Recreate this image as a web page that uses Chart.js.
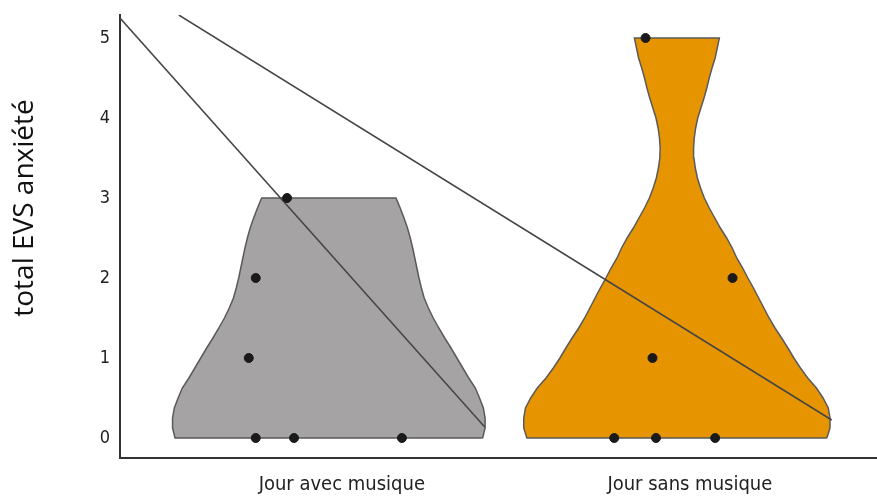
<!DOCTYPE html>
<html>
<head>
<meta charset="utf-8">
<script src="https://cdn.jsdelivr.net/npm/chart.js@4.4.0/dist/chart.umd.min.js"></script>
<style>
  html, body { margin: 0; padding: 0; background: #fff; }
  #wrap { width: 877px; height: 496px; }
</style>
</head>
<body>
<div id="wrap"><canvas id="myChart"></canvas></div>
<script>
const categories = ['Jour avec musique', 'Jour sans musique'];
const yTicks = [0, 1, 2, 3, 4, 5];

// violin outlines: half width (x units) at each score level
const levelsAvec = [0, 0.125, 0.25, 0.375, 0.5, 0.625, 0.75, 0.875, 1, 1.125, 1.25, 1.375, 1.5,
  1.625, 1.75, 1.875, 2, 2.125, 2.25, 2.375, 2.5, 2.625, 2.75, 2.875, 3];
const halfAvec = [0.442, 0.449, 0.449, 0.444, 0.433, 0.421, 0.402, 0.385, 0.368, 0.351, 0.333, 0.316, 0.300,
  0.286, 0.274, 0.266, 0.259, 0.253, 0.247, 0.241, 0.234, 0.226, 0.216, 0.205, 0.193];
const levelsSans = [0, 0.125, 0.25, 0.375, 0.5, 0.625, 0.75, 0.875, 1, 1.125, 1.25, 1.375, 1.5,
  1.625, 1.75, 1.875, 2, 2.125, 2.25, 2.375, 2.5, 2.625, 2.75, 2.875, 3,
  3.125, 3.25, 3.375, 3.5, 3.625, 3.75, 3.875, 4, 4.125, 4.25, 4.375, 4.5, 4.625, 4.75, 4.875, 5];
const halfSans = [0.431, 0.440, 0.440, 0.435, 0.420, 0.401, 0.376, 0.355, 0.336, 0.319, 0.301, 0.282, 0.265,
  0.250, 0.235, 0.220, 0.204, 0.189, 0.172, 0.159, 0.143, 0.125, 0.109, 0.093, 0.079,
  0.068, 0.059, 0.053, 0.049, 0.048, 0.050, 0.054, 0.060, 0.069, 0.078, 0.086, 0.093, 0.101, 0.110, 0.116, 0.122];

// individual scores and their jitter
const scoresAvec = [0, 0, 0, 1, 2, 3];
const jitterAvec = [-0.21, -0.10, 0.21, -0.23, -0.21, -0.12];
const scoresSans = [0, 0, 0, 1, 2, 5];
const jitterSans = [-0.18, -0.06, 0.11, -0.07, 0.16, -0.09];

// the two straight lines across the plot
const lineA = [{x: 0.40, y: 5.25}, {x: 1.448, y: 0.1375}];
const lineB = [{x: 0.569, y: 5.2875}, {x: 2.445, y: 0.225}];

function violin(center, levels, half) {
  const right = levels.map((y, i) => ({x: center + half[i], y: y}));
  const left = levels.map((y, i) => ({x: center - half[i], y: y})).reverse();
  const pts = right.concat(left);
  pts.push(pts[0]);
  return pts;
}

function points(center, scores, jitter) {
  return scores.map((y, i) => ({x: center + jitter[i], y: y}));
}

const ctx = document.getElementById('myChart').getContext('2d');

const yTitle = {
  id: 'yTitle',
  afterDraw(chart) {
    const c = chart.ctx;
    c.save();
    c.translate(25, 208);
    c.rotate(-Math.PI / 2);
    c.font = '28px "Open Sans", sans-serif';
    c.fillStyle = '#111';
    c.textAlign = 'center';
    c.textBaseline = 'middle';
    c.fillText('total EVS anxiété', 0, 0);
    c.restore();
  }
};

const tickFont = '"Liberation Sans Narrow", "Arial Narrow", "DejaVu Sans Condensed", sans-serif';

new Chart(ctx, {
  type: 'scatter',
  data: {
    datasets: [{
      data: points(1, scoresAvec, jitterAvec),
      backgroundColor: '#1a1a1a',
      borderColor: '#1a1a1a',
      pointRadius: 4.5,
      order: 0
    }, {
      data: points(2, scoresSans, jitterSans),
      backgroundColor: '#1a1a1a',
      borderColor: '#1a1a1a',
      pointRadius: 4.5,
      order: 0
    }, {
      data: lineA,
      showLine: true,
      borderColor: '#454545',
      borderWidth: 1.5,
      pointRadius: 0,
      order: 1
    }, {
      data: lineB,
      showLine: true,
      borderColor: '#454545',
      borderWidth: 1.5,
      pointRadius: 0,
      order: 1
    }, {
      data: violin(1, levelsAvec, halfAvec),
      showLine: true,
      fill: 'shape',
      backgroundColor: '#a5a3a4',
      borderColor: '#5a5a5a',
      borderWidth: 1.5,
      pointRadius: 0,
      order: 2
    }, {
      data: violin(2, levelsSans, halfSans),
      showLine: true,
      fill: 'shape',
      backgroundColor: '#e69500',
      borderColor: '#5a5a5a',
      borderWidth: 1.5,
      pointRadius: 0,
      order: 2
    }]
  },
  options: {
    responsive: true,
    maintainAspectRatio: false,
    animation: false,
    layout: { autoPadding: false, padding: { top: 15, right: 0, left: 0, bottom: 0 } },
    plugins: {
      legend: { display: false },
      tooltip: { enabled: false }
    },
    scales: {
      x: {
        type: 'linear',
        min: 0.4,
        max: 2.575,
        afterBuildTicks: (axis) => { axis.ticks = [{value: 1}, {value: 2}]; },
        afterFit: (axis) => {
          axis.height = 38;
          axis.paddingLeft = 0;
          axis.paddingRight = 0;
        },
        grid: { display: false, drawTicks: false },
        border: { display: true, color: '#333', width: 2 },
        ticks: {
          padding: 15,
          labelOffset: 13,
          color: '#222',
          font: { family: tickFont, size: 20 },
          callback: (v) => categories[v - 1]
        }
      },
      y: {
        min: -0.25,
        max: 5.2875,
        afterBuildTicks: (axis) => { axis.ticks = yTicks.map(v => ({value: v})); },
        afterFit: (axis) => {
          axis.width = 120;
          axis.paddingTop = 0;
          axis.paddingBottom = 0;
        },
        grid: { display: false, drawTicks: false },
        border: { display: true, color: '#333', width: 2 },
        ticks: {
          padding: 10,
          color: '#222',
          font: { family: tickFont, size: 18 }
        }
      }
    }
  },
  plugins: [yTitle]
});
</script>
</body>
</html>
